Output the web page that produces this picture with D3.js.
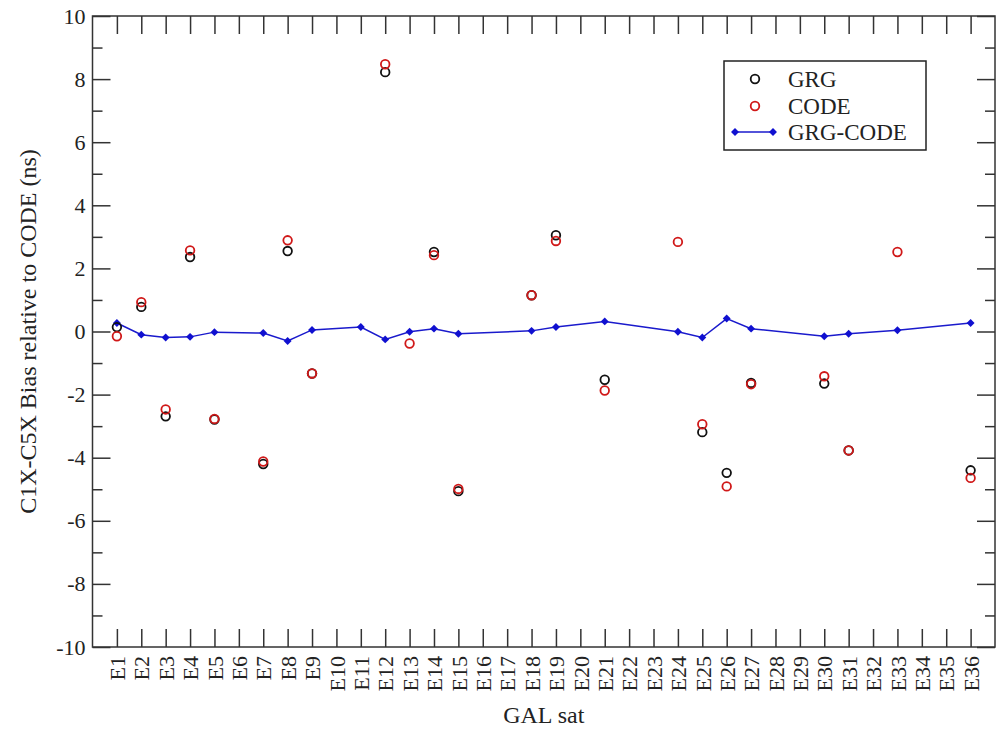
<!DOCTYPE html>
<html>
<head>
<meta charset="utf-8">
<script src="https://cdn.jsdelivr.net/npm/d3@7"></script>
<style>
  body { margin: 0; background: #fff; }
  text { font-family: 'Liberation Serif', 'DejaVu Serif', serif; fill: #222; }
</style>
</head>
<body>
<div id="chart"></div>
<script>
// satellites E1..E36
const sats = d3.range(1, 37).map(i => 'E' + i)

// values (null = no point drawn)
const grg = [0.14, 0.78, -2.69, 2.36, -2.79, null, -4.2, 2.55, -1.33, null,
  null, 8.22, null, 2.52, -5.06, null, null, 1.15, 3.05, null,
  -1.53, null, null, null, -3.19, -4.48, -1.63, null, null, -1.65,
  -3.77, null, null, null, null, -4.4]
const code = [-0.15, 0.93, -2.47, 2.57, -2.77, null, -4.12, 2.89, -1.33, null,
  null, 8.47, -0.38, 2.42, -4.99, null, null, 1.15, 2.87, null,
  -1.87, null, null, 2.84, -2.94, -4.91, -1.67, null, null, -1.42,
  -3.77, null, 2.52, null, null, -4.64]
const diff = [0.27, -0.1, -0.19, -0.17, -0.02, null, -0.05, -0.3, 0.05, null,
  0.14, -0.25, -0.01, 0.09, -0.07, null, null, 0.02, 0.14, null,
  0.32, null, null, -0.01, -0.19, 0.41, 0.09, null, null, -0.15,
  -0.07, null, 0.04, null, null, 0.27]

const yMajor = d3.range(-10, 11, 2)
const yMinor = d3.range(-9, 10, 2)

const margin = { top: 16, left: 92.5, right: 5, bottom: 82 }
const width = 1000 - margin.left - margin.right
const height = 729 - margin.top - margin.bottom

const svg = d3.select('#chart').append('svg')
  .attr('width', 1000)
  .attr('height', 729)

const g = svg.append('g')
  .attr('transform', `translate(${margin.left},${margin.top})`)

const x = d3.scalePoint().domain(sats).range([0, width]).padding(1)
const y = d3.scaleLinear().domain([-10, 10]).range([height, 0])

const axisColor = '#333'

// bottom axis with inward ticks and rotated labels
const xAxis = g.append('g')
  .attr('transform', `translate(0,${height})`)
  .call(d3.axisBottom(x).tickSizeInner(-18).tickSizeOuter(0))
xAxis.selectAll('text')
  .attr('transform', 'rotate(-90)')
  .attr('x', -9)
  .attr('y', 0)
  .attr('dy', '0.35em')
  .attr('text-anchor', 'end')
  .style('font-size', '22px')

// top axis, ticks only
g.append('g')
  .call(d3.axisTop(x).tickSizeInner(-18).tickSizeOuter(0).tickFormat(''))

// left axis (plain hyphen for negatives)
g.append('g')
  .call(d3.axisLeft(y).tickValues(yMajor).tickFormat(d => String(d))
    .tickSizeInner(-18).tickSizeOuter(0).tickPadding(7))
  .selectAll('text')
  .style('font-size', '22px')
g.append('g')
  .call(d3.axisLeft(y).tickValues(yMinor).tickSizeInner(-10).tickSizeOuter(0).tickFormat(''))

// right axis, ticks only
g.append('g')
  .attr('transform', `translate(${width},0)`)
  .call(d3.axisRight(y).tickValues(yMajor).tickSizeInner(-18).tickSizeOuter(0).tickFormat(''))
g.append('g')
  .attr('transform', `translate(${width},0)`)
  .call(d3.axisRight(y).tickValues(yMinor).tickSizeInner(-10).tickSizeOuter(0).tickFormat(''))

g.selectAll('.tick line').attr('stroke', axisColor).attr('stroke-width', 1.5)
g.selectAll('.domain').remove()

g.append('rect')
  .attr('width', width)
  .attr('height', height)
  .attr('fill', 'none')
  .attr('stroke', axisColor)
  .attr('stroke-width', 1.5)

// GRG-CODE line
const diffPts = sats.map((s, i) => ({ s, v: diff[i] })).filter(d => d.v != null)
const line = d3.line().x(d => x(d.s)).y(d => y(d.v))
g.append('path')
  .datum(diffPts)
  .attr('d', line)
  .attr('fill', 'none')
  .attr('stroke', '#1a1acc')
  .attr('stroke-width', 1.5)

const diamond = d3.symbol().type(d3.symbolDiamond2).size(40)
g.selectAll('.dia')
  .data(diffPts)
  .enter()
  .append('path')
  .attr('transform', d => `translate(${x(d.s)},${y(d.v)})`)
  .attr('d', diamond)
  .attr('fill', '#1010d0')

function drawCircles(values, color) {
  const pts = sats.map((s, i) => ({ s, v: values[i] })).filter(d => d.v != null)
  g.append('g')
    .selectAll('circle')
    .data(pts)
    .enter()
    .append('circle')
    .attr('cx', d => x(d.s))
    .attr('cy', d => y(d.v))
    .attr('r', 4.3)
    .attr('fill', 'none')
    .attr('stroke', color)
    .attr('stroke-width', 1.8)
}
drawCircles(grg, '#111')
drawCircles(code, '#d01818')

// axis titles
svg.append('text')
  .attr('x', margin.left + width / 2)
  .attr('y', 723)
  .attr('text-anchor', 'middle')
  .style('font-size', '24px')
  .text('GAL sat')

svg.append('text')
  .attr('transform', `translate(28,${margin.top + height / 2}) rotate(-90)`)
  .attr('text-anchor', 'middle')
  .attr('dy', '0.35em')
  .style('font-size', '24px')
  .text('C1X-C5X Bias relative to CODE (ns)')

// legend
const legend = svg.append('g')
legend.append('rect')
  .attr('x', 724).attr('y', 61)
  .attr('width', 202).attr('height', 89)
  .attr('fill', '#fff')
  .attr('stroke', '#222')
  .attr('stroke-width', 1.5)

const legendItems = [
  { name: 'GRG', color: '#111', y: 79 },
  { name: 'CODE', color: '#d01818', y: 106 },
  { name: 'GRG-CODE', color: '#1010d0', y: 132 }
]
legendItems.forEach((d, i) => {
  if (i < 2) {
    legend.append('circle')
      .attr('cx', 755).attr('cy', d.y).attr('r', 4.3)
      .attr('fill', 'none').attr('stroke', d.color).attr('stroke-width', 1.8)
  } else {
    legend.append('line')
      .attr('x1', 735).attr('x2', 773).attr('y1', d.y).attr('y2', d.y)
      .attr('stroke', '#1a1acc').attr('stroke-width', 1.5)
    ;[735, 773].forEach(px => {
      legend.append('path')
        .attr('transform', `translate(${px},${d.y})`)
        .attr('d', diamond)
        .attr('fill', d.color)
    })
  }
  legend.append('text')
    .attr('x', 788).attr('y', d.y)
    .attr('dy', '0.35em')
    .style('font-size', '23px')
    .text(d.name)
})
</script>
</body>
</html>
